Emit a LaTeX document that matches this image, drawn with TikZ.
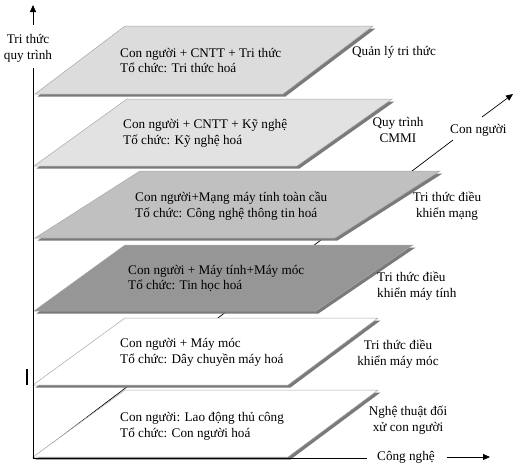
\documentclass[tikz,border=0pt]{standalone}
\usepackage{fontspec}
\setmainfont{Liberation Serif}
\usetikzlibrary{arrows.meta}
\definecolor{pA}{HTML}{DCDCDC}
\definecolor{pB}{HTML}{E2E2E2}
\definecolor{pC}{HTML}{C0C0C0}
\definecolor{pD}{HTML}{969696}
\definecolor{shd}{HTML}{7A7A7A}
\definecolor{edg}{HTML}{A8A8A8}
\newcommand{\fsz}{\fontsize{13.2}{15.8}\selectfont}
\tikzset{
  lbl/.style={inner sep=0pt, align=left, anchor=west, font=\fsz},
  clbl/.style={inner sep=0pt, align=center, font=\fsz},
  axis/.style={draw=black, line width=0.9pt},
  tip/.style={-{Triangle[length=7pt,width=6pt]}},
  planeshadow/.style={fill=shd},
  plane/.style={draw=edg, line width=0.5pt},
}
\begin{document}
\begin{tikzpicture}[x=1pt,y=-1pt]
\useasboundingbox (0,0) rectangle (514,466);
% coordinates
\coordinate (O) at (33,458);
\coordinate (Vtop) at (33,68);
\coordinate (Va) at (33,25);
\coordinate (Vb) at (33,5);
\coordinate (Hend) at (367,458);
\coordinate (Ha) at (447,457);
\coordinate (Hb) at (490,457);
\coordinate (Dend) at (453,140);
\coordinate (Da) at (482,117);
\coordinate (Db) at (513,94);
% diagonal axis (behind planes)
\draw[axis, line width=0.7pt] (O) -- (Dend);
% planes: shadow then face
\foreach \tl/\tr/\br/\bl/\col in {
  {125,26}/{373,26}/{283,94}/{35,94}/pA,
  {127,99}/{392,99}/{297,166}/{34,166}/pB,
  {140,171}/{440,171}/{335,238}/{35,238}/pC,
  {125,245}/{413,245}/{316,311}/{34,311}/pD,
  {125,318}/{378,318}/{288,385}/{33,385}/white,
  {125,390}/{378,390}/{288,457}/{33,457}/white}{
  \fill[planeshadow] ([shift={(2.5,2.5)}]\tl) -- ([shift={(2.5,2.5)}]\tr) -- ([shift={(2.5,2.5)}]\br) -- ([shift={(2.5,2.5)}]\bl) -- cycle;
  \filldraw[plane, fill=\col] (\tl) -- (\tr) -- (\br) -- (\bl) -- cycle;
}
% axes
\draw[axis] (O) -- (Vtop);
\draw[axis, tip] (Va) -- (Vb);
\draw[axis] (O) -- (Hend);
\draw[axis, tip] (Ha) -- (Hb);
\draw[axis, line width=0.7pt, tip] (Da) -- (Db);
\draw[line width=2.2pt] (27,369) -- (27,385);
% axis labels
\node[clbl] (ylab) at (28,48) {Tri thức\\quy trình};
\node[lbl] (xlab) at (377,457) {Công nghệ};
\node[lbl] (dlab) at (450,130) {Con người};
% plane texts
\node[lbl] (t1) at (120,60.5) {Con người + CNTT + Tri thức\\Tổ chức: Tri thức hoá};
\node[lbl] (t2) at (123,133) {Con người + CNTT + Kỹ nghệ\\Tố chức: Kỹ nghệ hoá};
\node[lbl] (t3) at (135,206.5) {Con người+Mạng máy tính toàn cầu\\Tố chức: Công nghệ thông tin hoá};
\node[lbl] (t4) at (128,278.5) {Con người + Máy tính+Máy móc\\Tổ chức: Tin học hoá};
\node[lbl] (t5) at (120,352.5) {Con người + Máy móc\\Tổ chức: Dây chuyền máy hoá};
\node[lbl] (t6) at (120,426.5) {Con người: Lao động thủ công\\Tổ chức: Con người hoá};
% right labels
\node[lbl] (r1) at (352,52) {Quản lý tri thức};
\node[clbl] (r2) at (398,130) {Quy trình\\CMMI};
\node[clbl] (r3) at (447,206) {Tri thức điều\\khiển mạng};
\node[lbl] (r4) at (377,286) {Tri thức điều\\khiển máy tính};
\node[clbl] (r5) at (398,354.5) {Tri thức điều\\khiển máy móc};
\node[clbl] (r6) at (408,420.5) {Nghệ thuật đối\\xử con người};
\end{tikzpicture}
\end{document}
